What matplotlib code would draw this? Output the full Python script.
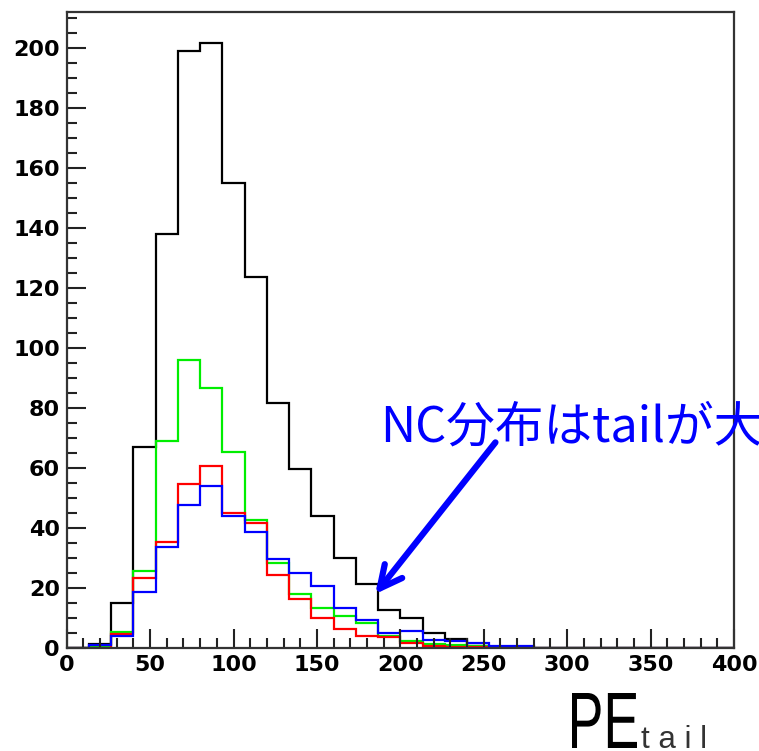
import numpy as np
import matplotlib
matplotlib.use("Agg")
import matplotlib.pyplot as plt
from matplotlib.ticker import MultipleLocator
from matplotlib.textpath import TextPath
from matplotlib.patches import PathPatch
from matplotlib.font_manager import FontProperties
from matplotlib.transforms import Affine2D

# 30 bins over 0-400 PE
edges = np.linspace(0, 400, 31)

black_counts = [0, 1.3, 15, 67, 138, 199, 201.5, 155, 123.5, 81.5, 59.8, 44, 30, 21.3,
                12.7, 10, 5, 2.9, 0.6, 0, 0, 0, 0, 0, 0, 0, 0, 0, 0, 0]
green_counts = [0, 0.3, 5.2, 25.8, 69, 96, 86.6, 65.2, 42.6, 28.2, 17.9, 13.2, 10.6, 8.3,
                4.1, 2.2, 1.2, 0.9, 0.5, 0.15, 0.15, 0, 0, 0, 0, 0, 0, 0, 0, 0]
red_counts = [0, 0, 4.7, 23.2, 35.2, 54.5, 60.8, 45.1, 41.5, 24.3, 16.3, 10, 6.2, 3.9,
              3.8, 1.8, 0.5, 0.4, 0.2, 0, 0, 0, 0, 0, 0, 0, 0, 0, 0, 0]
blue_counts = [0, 0.9, 4.1, 18.6, 33.7, 47.8, 54, 44, 38.7, 29.5, 24.9, 20.5, 13.3, 9.4,
               5.0, 5.5, 2.8, 2.2, 1.6, 0.5, 0.5, 0, 0, 0, 0, 0, 0, 0, 0, 0]

series = [("black", black_counts), ("#00ee00", green_counts),
          ("red", red_counts), ("blue", blue_counts)]

W, H = 759, 751
fig = plt.figure(figsize=(W / 100, H / 100), dpi=100)
ax = fig.add_axes([66.7 / W, 1 - 648 / H, (734 - 66.7) / W, (648 - 11.7) / H])

for color, counts in series:
    ax.stairs(counts, edges, color=color, lw=1.6)

ax.set_xlim(0, 400)
ax.set_ylim(0, 212)
ax.xaxis.set_major_locator(MultipleLocator(50))
ax.xaxis.set_minor_locator(MultipleLocator(10))
ax.yaxis.set_major_locator(MultipleLocator(20))
ax.yaxis.set_minor_locator(MultipleLocator(5))
ax.tick_params(which="both", direction="in", width=1.5, color="#222222",
               top=False, right=False, labelsize=16, pad=5)
ax.tick_params(which="major", length=13.5)
ax.tick_params(which="minor", length=7)
for lab in ax.get_xticklabels() + ax.get_yticklabels():
    lab.set_fontweight("bold")
    lab.set_family("DejaVu Sans")
for sp in ax.spines.values():
    sp.set_linewidth(1.6)
    sp.set_color("#333333")

# annotation
ax.annotate("", xy=(185, 18), xytext=(257, 68.5), annotation_clip=False,
            arrowprops=dict(arrowstyle="->", lw=4.5, color="blue",
                            mutation_scale=40, shrinkA=0, shrinkB=0))
ax.text(188, 68.8, "NC分布はtailが大きい", fontsize=35, color="blue",
        family=["Noto Sans CJK JP"], va="baseline", clip_on=False)


# axis title "PE_tail": PE drawn narrow like the original
def fitted_text(s, x0, y0, x1, y1, family, color):
    path = TextPath((0, 0), s, size=1, prop=FontProperties(family=family))
    ext = path.get_extents()
    tr = (Affine2D().translate(-ext.x0, -ext.y0)
          .scale((x1 - x0) / ext.width, (y1 - y0) / ext.height)
          .translate(x0, y0).scale(1 / W, 1 / H))
    fig.add_artist(PathPatch(tr.transform_path(path), transform=fig.transFigure,
                             facecolor=color, edgecolor="none"))


fitted_text("PE", 572, 3, 637, 58, "Liberation Sans", "black")
fig.text(641 / W, 3 / H, "t a i l", fontsize=22.5, family="Liberation Sans",
         color="#333333", va="baseline")

fig.savefig("out.png", dpi=100)
